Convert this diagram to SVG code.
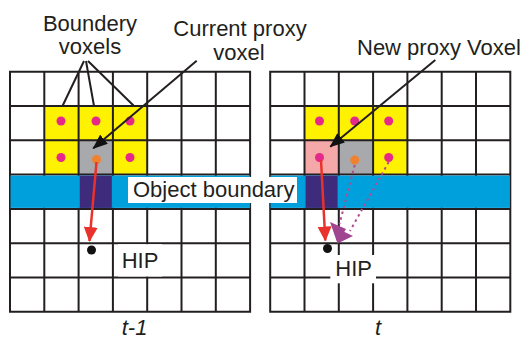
<svg xmlns="http://www.w3.org/2000/svg" width="524" height="340" viewBox="0 0 524 340">
<style>
.t{font-family:"Liberation Sans",Arial,sans-serif;font-size:22px;fill:#231f20}
.it{font-style:italic}
.grid{fill:none;stroke:#231f20;stroke-width:2}
.y{fill:#fff200}
.g{fill:#a7a9ac}
.pk{fill:#f4a9a8}
.bl{fill:#00a0dc}
.pu{fill:#3f2b7b}
.mg{fill:#e6288a}
.or{fill:#f0812f}
.dot{fill:#111}
.lead{stroke:#231f20;stroke-width:2;fill:none}
.red{stroke:#e8322b;stroke-width:2.5;fill:none}
.dash{stroke:#b24b93;stroke-width:2;stroke-dasharray:2.5 3.5;fill:none}
</style>
<defs>
<marker id="ab" markerWidth="15" markerHeight="12" refX="14" refY="6" orient="auto" markerUnits="userSpaceOnUse"><path d="M0,0 L15,6 L0,12 z" fill="#111"/></marker>
<marker id="ar" markerWidth="15" markerHeight="14" refX="14" refY="7" orient="auto" markerUnits="userSpaceOnUse"><path d="M0,0 L15,7 L0,14 z" fill="#e8322b"/></marker>
</defs>
<rect width="524" height="340" fill="#fff"/>
<g id="grid-left">
<rect class="y" x="44.3" y="106" width="34.3" height="34.3"/>
<rect class="y" x="78.6" y="106" width="34.3" height="34.3"/>
<rect class="y" x="112.9" y="106" width="34.3" height="34.3"/>
<rect class="y" x="44.3" y="140.3" width="34.3" height="34.3"/>
<rect class="y" x="112.9" y="140.3" width="34.3" height="34.3"/>
<rect class="g" x="78.6" y="140.3" width="34.3" height="34.3"/>
<path class="grid" d="M10,71.7V311.8M44.3,71.7V311.8M78.6,71.7V311.8M112.9,71.7V311.8M147.2,71.7V311.8M181.5,71.7V311.8M215.8,71.7V311.8M250.1,71.7V311.8M9,71.7H251.1M9,106H251.1M9,140.3H251.1M9,174.6H251.1M9,208.9H251.1M9,243.2H251.1M9,277.5H251.1M9,311.8H251.1"/>
<rect class="bl" x="10.5" y="175.6" width="239.6" height="32.3"/>
<rect class="pu" x="79.8" y="175.6" width="32" height="32.3"/>
<rect fill="#fff" x="118" y="244.2" width="44" height="32.3"/>
</g>
<g id="grid-right">
<rect class="y" x="304.5" y="106" width="34.3" height="34.3"/>
<rect class="y" x="338.8" y="106" width="34.3" height="34.3"/>
<rect class="y" x="373.1" y="106" width="34.3" height="34.3"/>
<rect class="y" x="373.1" y="140.3" width="34.3" height="34.3"/>
<rect class="pk" x="304.5" y="140.3" width="34.3" height="34.3"/>
<rect class="g" x="338.8" y="140.3" width="34.3" height="34.3"/>
<path class="grid" d="M270.2,71.7V311.8M304.5,71.7V311.8M338.8,71.7V311.8M373.1,71.7V311.8M407.4,71.7V311.8M441.7,71.7V311.8M476,71.7V311.8M510.3,71.7V311.8M269.2,71.7H511.3M269.2,106H511.3M269.2,140.3H511.3M269.2,174.6H511.3M269.2,208.9H511.3M269.2,243.2H511.3M269.2,277.5H511.3M269.2,311.8H511.3"/>
<rect class="bl" x="270.5" y="175.6" width="239.4" height="32.3"/>
<rect class="pu" x="305.6" y="175.6" width="32" height="32.3"/>
<rect fill="#fff" x="330.3" y="255" width="45.7" height="28.3"/>
</g>
<g id="label-object-boundary">
<rect fill="#fff" x="128" y="177" width="169" height="26"/>
<text class="t" x="133" y="197">Object boundary</text>
</g>
<g id="dots">
<circle class="mg" cx="61" cy="121" r="4.5"/>
<circle class="mg" cx="96" cy="121" r="4.5"/>
<circle class="mg" cx="130" cy="121" r="4.5"/>
<circle class="mg" cx="61" cy="157.5" r="4.5"/>
<circle class="mg" cx="130" cy="157.5" r="4.5"/>
<circle class="or" cx="96.5" cy="159.5" r="4.5"/>
<circle class="mg" cx="319.5" cy="121" r="4.5"/>
<circle class="mg" cx="354.7" cy="121" r="4.5"/>
<circle class="mg" cx="388.7" cy="121" r="4.5"/>
<circle class="mg" cx="319.5" cy="157.5" r="4.5"/>
<circle class="mg" cx="388.7" cy="157.5" r="4.5"/>
<circle class="or" cx="354.7" cy="160" r="4.5"/>
</g>
<g id="hip-left">
<circle class="dot" cx="91.5" cy="250" r="4.5"/>
<text class="t" x="121.7" y="267.5">HIP</text>
</g>
<g id="hip-right">
<circle class="dot" cx="327.5" cy="248.5" r="4.5"/>
<text class="t" x="335.3" y="276">HIP</text>
</g>
<g id="label-boundery-voxels">
<text class="t" x="90" y="31" text-anchor="middle">Boundery</text>
<text class="t" x="90" y="54" text-anchor="middle">voxels</text>
</g>
<g id="label-current-proxy">
<text class="t" x="240" y="36" text-anchor="middle">Current proxy</text>
<text class="t" x="239" y="60" text-anchor="middle">voxel</text>
</g>
<g id="label-new-proxy">
<text class="t" x="357" y="55">New proxy Voxel</text>
</g>
<g id="label-t1"><text class="t it" x="121.7" y="335">t-1</text></g>
<g id="label-t"><text class="t it" x="375" y="335">t</text></g>
<g id="connectors">
<path class="lead" d="M84,61L62.5,106M86,61L94,106M88,61L134,106"/>
<line class="lead" x1="196.7" y1="60.7" x2="93.3" y2="148.3" marker-end="url(#ab)"/>
<line class="lead" x1="435.3" y1="60" x2="330.3" y2="146.7" marker-end="url(#ab)"/>
<line class="red" x1="96.5" y1="162" x2="89.5" y2="241" marker-end="url(#ar)"/>
<line class="red" x1="321" y1="160" x2="325.3" y2="240.5" marker-end="url(#ar)"/>
<line class="dash" x1="354.7" y1="165" x2="339.5" y2="224"/>
<line class="dash" x1="388.7" y1="162" x2="350" y2="231"/>
<polygon fill="#a0458f" points="330,222 346,229 337.5,243.5"/>
<polygon fill="#a0458f" points="334,227 353,236 337.5,243.5"/>
</g>
</svg>
